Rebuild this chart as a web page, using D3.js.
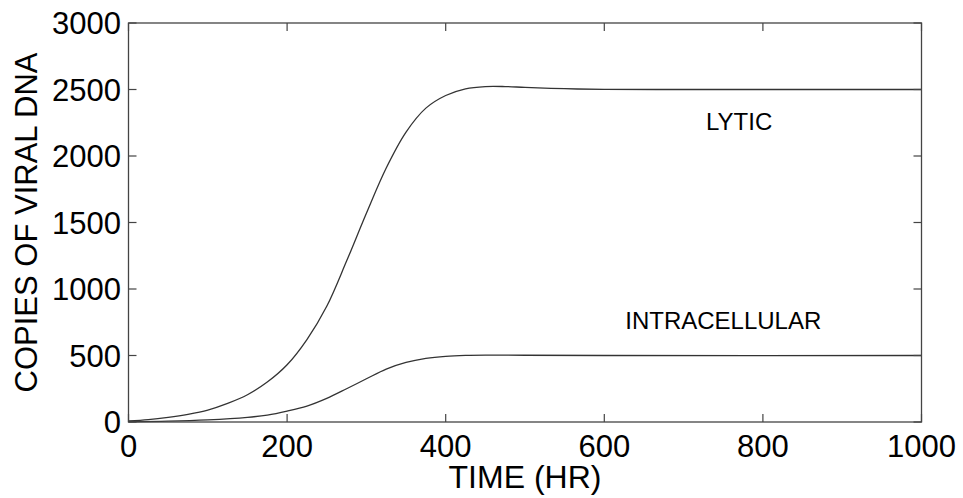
<!DOCTYPE html>
<html>
<head>
<meta charset="utf-8">
<script src="https://cdn.jsdelivr.net/npm/d3@7"></script>
<style>
  body { margin: 0; background: #fff; }
  text { font-family: Arial, "Liberation Sans", sans-serif; fill: #000; }
</style>
</head>
<body>
<svg id="chart" width="963" height="498"></svg>
<script>
const lyticTime = [0, 25, 50, 75, 100, 125, 150, 175, 200, 225, 250, 275, 300, 325, 350, 375, 400, 425, 450, 475, 500, 550, 600, 700, 800, 1000]
const lyticCopies = [8, 18, 35, 58, 90, 140, 205, 300, 430, 620, 870, 1210, 1570, 1910, 2180, 2360, 2455, 2505, 2522, 2522, 2516, 2506, 2501, 2500, 2500, 2500]
const intraTime = [0, 50, 100, 150, 175, 200, 225, 250, 275, 300, 325, 350, 375, 400, 425, 450, 500, 600, 1000]
const intraCopies = [2, 6, 16, 35, 52, 82, 120, 178, 250, 325, 398, 448, 478, 494, 501, 503, 502, 500, 500]
const xTicks = [0, 200, 400, 600, 800, 1000]
const yTicks = [0, 500, 1000, 1500, 2000, 2500, 3000]
const curveLabels = [
  {text: "LYTIC", t: 770, v: 2195},
  {text: "INTRACELLULAR", t: 750, v: 697}
]

const svg = d3.select("#chart")
const m = {left: 128.5, right: 921.5, top: 23, bottom: 422}
const x = d3.scaleLinear().domain([0, 1000]).range([m.left, m.right])
const y = d3.scaleLinear().domain([0, 3000]).range([m.bottom, m.top])
const tickLen = 8
const axisColour = "#444"

const drawLine = (xs, ys) => {
  const pts = xs.map((t, i) => [x(t), y(ys[i])])
  svg.append("path")
    .attr("d", d3.line().curve(d3.curveCatmullRom.alpha(0.5))(pts))
    .attr("fill", "none")
    .attr("stroke", "#333")
    .attr("stroke-width", 1.3)
}

drawLine(lyticTime, lyticCopies)
drawLine(intraTime, intraCopies)

// box
svg.append("rect")
  .attr("x", m.left).attr("y", m.top)
  .attr("width", m.right - m.left).attr("height", m.bottom - m.top)
  .attr("fill", "none").attr("stroke", axisColour).attr("stroke-width", 1.3)

// inward ticks on all four sides
xTicks.forEach(t => {
  svg.append("path").attr("d", d3.line()([[x(t), m.bottom], [x(t), m.bottom - tickLen]]))
    .attr("stroke", axisColour).attr("stroke-width", 1.2)
  svg.append("path").attr("d", d3.line()([[x(t), m.top], [x(t), m.top + tickLen]]))
    .attr("stroke", axisColour).attr("stroke-width", 1.2)
  svg.append("text")
    .attr("x", x(t)).attr("y", 457)
    .attr("text-anchor", "middle")
    .style("font-size", "31px")
    .text(t)
})

yTicks.forEach(v => {
  svg.append("path").attr("d", d3.line()([[m.left, y(v)], [m.left + tickLen, y(v)]]))
    .attr("stroke", axisColour).attr("stroke-width", 1.2)
  svg.append("path").attr("d", d3.line()([[m.right, y(v)], [m.right - tickLen, y(v)]]))
    .attr("stroke", axisColour).attr("stroke-width", 1.2)
  svg.append("text")
    .attr("x", 121).attr("y", y(v))
    .attr("dy", "0.36em")
    .attr("text-anchor", "end")
    .style("font-size", "31px")
    .text(v)
})

svg.append("text")
  .attr("x", (m.left + m.right) / 2).attr("y", 488)
  .attr("text-anchor", "middle")
  .style("font-size", "32px")
  .text("TIME (HR)")

svg.append("text")
  .attr("transform", `translate(37,${(m.top + m.bottom) / 2}) rotate(-90)`)
  .attr("text-anchor", "middle")
  .style("font-size", "31px")
  .text("COPIES OF VIRAL DNA")

curveLabels.forEach(d => {
  svg.append("text")
    .attr("x", x(d.t)).attr("y", y(d.v))
    .attr("text-anchor", "middle")
    .style("font-size", "24px")
    .text(d.text)
})
</script>
</body>
</html>
